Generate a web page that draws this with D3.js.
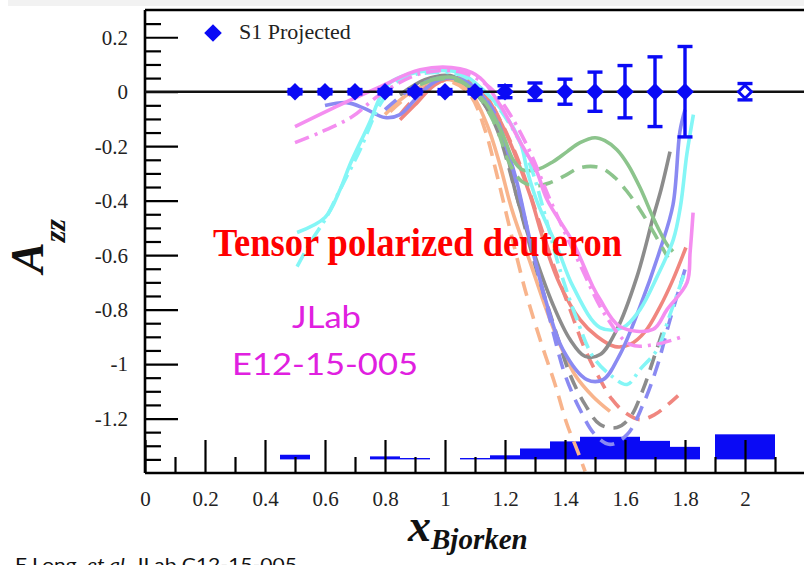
<!DOCTYPE html>
<html>
<head>
<meta charset="utf-8">
<script src="https://cdn.jsdelivr.net/npm/d3@7"></script>
<style>
  html, body { margin: 0; padding: 0; background: #fff; }
  svg { display: block; }
</style>
</head>
<body>
<svg id="chart" width="804" height="565"></svg>
<script>
// ---- S1 projected points (A_zz = 0 with statistical errors) ----
const s1X   = [0.5, 0.6, 0.7, 0.8, 0.9, 1.0, 1.1, 1.2, 1.3, 1.4, 1.5, 1.6, 1.7, 1.8];
const s1Y   = [0, 0, 0, 0, 0, 0, 0, 0, 0, 0, 0, 0, 0, 0];
const s1Err = [0.008, 0.008, 0.008, 0.008, 0.008, 0.008, 0.008, 0.022, 0.032, 0.046, 0.072, 0.096, 0.128, 0.166];

// open point at x = 2
const openX = [2.0];
const openY = [0];
const openErr = [0.03];

// ---- systematic error bands (bin low edge, high edge, height above base) ----
const sysBase = -1.35;
const sysLo = [0.45, 0.75, 0.85, 1.05, 1.15, 1.25, 1.35, 1.45, 1.55, 1.65, 1.75, 1.90];
const sysHi = [0.55, 0.85, 0.95, 1.15, 1.25, 1.35, 1.45, 1.55, 1.65, 1.75, 1.85, 2.10];
const sysH  = [0.017, 0.011, 0.005, 0.005, 0.015, 0.040, 0.066, 0.083, 0.083, 0.068, 0.046, 0.092];

// ---- tick values ----
const xMajorTicks = [0, 0.2, 0.4, 0.6, 0.8, 1.0, 1.2, 1.4, 1.6, 1.8, 2.0];
const xMinorTicks = [0.1, 0.3, 0.5, 0.7, 0.9, 1.1, 1.3, 1.5, 1.7, 1.9, 2.1];
const yMajorTicks = [-1.2, -1.0, -0.8, -0.6, -0.4, -0.2, 0, 0.2];
const yMinorTicks = [-1.35, -1.3, -1.25, -1.15, -1.1, -1.05, -0.95, -0.9, -0.85, -0.75, -0.7, -0.65,
                     -0.55, -0.5, -0.45, -0.35, -0.3, -0.25, -0.15, -0.1, -0.05, 0.05, 0.1, 0.15, 0.25];

// ---- model curves [x, A_zz] ----
const orangeSolid = [[0.80,-0.084],[0.86,-0.022],[0.933,0.026],[1.017,0.044],[1.083,0.0],[1.14,-0.121],
  [1.183,-0.268],[1.223,-0.433],[1.283,-0.624],[1.34,-0.807],[1.383,-0.928],[1.433,-1.039],[1.493,-1.119],[1.55,-1.174]];
const orangeDash = [[0.817,-0.073],[0.883,-0.011],[0.95,0.029],[1.017,0.037],[1.083,-0.011],[1.133,-0.139],
  [1.173,-0.305],[1.217,-0.506],[1.267,-0.727],[1.317,-0.91],[1.367,-1.075],[1.407,-1.222],[1.44,-1.314],[1.467,-1.394]];
const salmonSolid = [[0.85,-0.103],[0.90,-0.048],[0.967,0.026],[1.033,0.051],[1.11,0.022],[1.173,-0.084],
  [1.227,-0.213],[1.283,-0.378],[1.333,-0.561],[1.383,-0.708],[1.45,-0.837],[1.507,-0.899],[1.567,-0.936],
  [1.617,-0.928],[1.667,-0.881],[1.717,-0.789],[1.76,-0.69],[1.803,-0.572]];
const salmonDash = [[0.85,-0.084],[0.95,0.026],[1.033,0.051],[1.117,0.015],[1.183,-0.103],[1.25,-0.268],
  [1.317,-0.488],[1.367,-0.653],[1.417,-0.80],[1.467,-0.947],[1.517,-1.057],[1.557,-1.13],[1.60,-1.178],
  [1.65,-1.204],[1.70,-1.185],[1.743,-1.149],[1.777,-1.116]];
const graySolid = [[0.85,-0.011],[0.933,0.044],[1.017,0.059],[1.083,0.015],[1.14,-0.059],[1.193,-0.169],
  [1.233,-0.36],[1.293,-0.58],[1.36,-0.782],[1.417,-0.91],[1.467,-0.972],[1.517,-0.965],[1.573,-0.873],
  [1.64,-0.679],[1.694,-0.46],[1.72,-0.36],[1.75,-0.22]];
const grayDash = [[0.85,-0.011],[0.95,0.044],[1.033,0.051],[1.10,0.0],[1.167,-0.121],[1.233,-0.36],
  [1.30,-0.635],[1.367,-0.873],[1.417,-1.039],[1.467,-1.149],[1.517,-1.222],[1.573,-1.233],[1.617,-1.196],
  [1.66,-1.094],[1.70,-0.965],[1.733,-0.855]];
const blueSolid = [[0.60,-0.051],[0.673,-0.04],[0.733,-0.062],[0.80,-0.095],[0.85,-0.084],[0.90,-0.029],
  [0.967,0.037],[1.033,0.051],[1.10,0.015],[1.167,-0.095],[1.233,-0.305],[1.283,-0.543],[1.34,-0.782],
  [1.393,-0.947],[1.473,-1.057],[1.527,-1.057],[1.583,-0.965],[1.65,-0.789],[1.717,-0.58],[1.76,-0.415],
  [1.783,-0.146],[1.80,-0.066]];
const blueDash = [[0.80,-0.066],[0.883,0.007],[0.983,0.051],[1.067,0.037],[1.15,-0.048],[1.217,-0.25],
  [1.283,-0.543],[1.35,-0.837],[1.40,-1.039],[1.45,-1.167],[1.50,-1.259],[1.55,-1.295],[1.607,-1.259],
  [1.66,-1.149],[1.707,-1.009],[1.75,-0.837],[1.80,-0.653]];
const greenSolid = [[0.917,0.026],[0.983,0.051],[1.033,0.051],[1.083,0.015],[1.14,-0.048],[1.193,-0.158],
  [1.227,-0.25],[1.257,-0.286],[1.307,-0.286],[1.36,-0.257],[1.407,-0.22],[1.45,-0.187],[1.50,-0.169],
  [1.533,-0.18],[1.573,-0.213],[1.61,-0.268],[1.65,-0.352],[1.70,-0.477],[1.74,-0.561],[1.76,-0.587]];
const greenDash = [[0.95,0.044],[1.033,0.044],[1.10,0.0],[1.167,-0.121],[1.217,-0.268],[1.257,-0.33],
  [1.30,-0.345],[1.35,-0.334],[1.40,-0.308],[1.45,-0.279],[1.517,-0.279],[1.567,-0.316],[1.61,-0.371],
  [1.65,-0.433],[1.70,-0.525],[1.743,-0.609]];
const cyanSolid = [[0.507,-0.517],[0.60,-0.462],[0.65,-0.36],[0.683,-0.268],[0.75,-0.11],[0.783,-0.022],
  [0.817,0.033],[0.873,0.062],[0.95,0.077],[1.05,0.07],[1.107,0.026],[1.183,-0.059],[1.25,-0.183],
  [1.275,-0.294],[1.307,-0.404],[1.373,-0.569],[1.427,-0.716],[1.517,-0.866],[1.593,-0.866],[1.65,-0.80],
  [1.707,-0.679],[1.761,-0.543],[1.785,-0.42],[1.806,-0.231],[1.828,-0.084]];
const cyanDashDot = [[0.507,-0.642],[0.557,-0.543],[0.60,-0.47],[0.65,-0.36],[0.717,-0.213],[0.783,-0.048],
  [0.85,0.044],[0.95,0.07],[1.05,0.062],[1.133,0.0],[1.217,-0.121],[1.283,-0.268],[1.333,-0.451],
  [1.383,-0.653],[1.44,-0.837],[1.493,-0.972],[1.55,-1.039],[1.607,-1.075],[1.65,-1.02],[1.707,-0.947],
  [1.75,-0.818],[1.80,-0.66]];
const pinkSolid = [[0.50,-0.128],[0.65,-0.048],[0.783,0.018],[0.917,0.081],[1.05,0.084],[1.117,0.051],
  [1.183,-0.048],[1.25,-0.183],[1.306,-0.294],[1.34,-0.396],[1.427,-0.554],[1.493,-0.716],[1.517,-0.763],
  [1.583,-0.862],[1.693,-0.873],[1.74,-0.80],[1.807,-0.70],[1.817,-0.59],[1.827,-0.444]];
const pinkDashDot = [[0.50,-0.187],[0.583,-0.15],[0.69,-0.092],[0.783,-0.011],[0.917,0.066],[1.05,0.073],
  [1.15,0.015],[1.217,-0.084],[1.283,-0.22],[1.35,-0.396],[1.45,-0.635],[1.533,-0.818],[1.617,-0.928],
  [1.70,-0.928],[1.79,-0.90]];

// ---- styles for the curves ----
const palette = {
  orange: "#f8b48c", salmon: "#f0867f", gray: "#8c8c8c", blue: "#8a8af2",
  green: "#8cc48c", cyan: "#84f6f6", pink: "#f48ef0"
};
const dashed = "15,9";
const dashDot = "15,6,3,6";
const curves = [
  { data: orangeDash,  color: palette.orange, dash: dashed },
  { data: orangeSolid, color: palette.orange, dash: null },
  { data: salmonDash,  color: palette.salmon, dash: dashed },
  { data: salmonSolid, color: palette.salmon, dash: null },
  { data: grayDash,    color: palette.gray,   dash: dashed },
  { data: graySolid,   color: palette.gray,   dash: null },
  { data: blueDash,    color: palette.blue,   dash: dashed },
  { data: blueSolid,   color: palette.blue,   dash: null },
  { data: greenDash,   color: palette.green,  dash: dashed },
  { data: greenSolid,  color: palette.green,  dash: null },
  { data: cyanDashDot, color: palette.cyan,   dash: dashDot },
  { data: cyanSolid,   color: palette.cyan,   dash: null },
  { data: pinkDashDot, color: palette.pink,   dash: dashDot },
  { data: pinkSolid,   color: palette.pink,   dash: null }
];

// ---- layout ----
const svg = d3.select("#chart");
const x = d3.scaleLinear().domain([0, 2.2]).range([145, 805]);
const y = d3.scaleLinear().domain([-1.4, 0.3]).range([473, 10]);
const BLUE = "#0a0af5";

svg.append("rect").attr("x", 8).attr("y", 0).attr("width", 796).attr("height", 6).attr("fill", "#f2f2f2");

// systematic bands
svg.append("g").selectAll("rect").data(sysLo).join("rect")
  .attr("x", (d) => x(d))
  .attr("width", (d, i) => x(sysHi[i]) - x(d))
  .attr("y", (d, i) => y(sysBase + sysH[i]))
  .attr("height", (d, i) => y(sysBase) - y(sysBase + sysH[i]))
  .attr("fill", BLUE);

// model curves
const line = d3.line().x((d) => x(d[0])).y((d) => y(d[1])).curve(d3.curveCatmullRom.alpha(0.5));
svg.append("g").attr("fill", "none").selectAll("path").data(curves).join("path")
  .attr("d", (c) => line(c.data))
  .attr("stroke", (c) => c.color)
  .attr("stroke-width", 3.6)
  .attr("stroke-dasharray", (c) => c.dash)
  .attr("stroke-linecap", "butt")
  .attr("stroke-linejoin", "round");

// axes with inward ticks
const fmt = (d) => String(+d.toFixed(2));
const tickFont = "'Liberation Serif', 'Times New Roman', serif";

const yMinor = svg.append("g").attr("transform", `translate(${x(0)},0)`)
  .call(d3.axisLeft(y).tickValues(yMinorTicks).tickSize(-16).tickFormat(""));
const yMajor = svg.append("g").attr("transform", `translate(${x(0)},0)`)
  .call(d3.axisLeft(y).tickValues(yMajorTicks).tickSize(-33).tickPadding(17).tickFormat(fmt));
const xMinor = svg.append("g").attr("transform", `translate(0,${y(-1.4)})`)
  .call(d3.axisBottom(x).tickValues(xMinorTicks).tickSize(-16).tickFormat(""));
const xMajor = svg.append("g").attr("transform", `translate(0,${y(-1.4)})`)
  .call(d3.axisBottom(x).tickValues(xMajorTicks).tickSize(-33).tickPadding(18).tickFormat(fmt));

[yMinor, yMajor, xMinor, xMajor].forEach((g) => {
  g.select(".domain").remove();
  g.selectAll(".tick line").attr("stroke", "#000").attr("stroke-width", 2.2);
  g.selectAll("text").attr("font-family", tickFont).attr("font-size", 21).attr("fill", "#222");
});
yMajor.selectAll("text").attr("dy", "0.33em");
xMajor.selectAll("text").attr("dy", "0.71em");

// frame: left, top, bottom
const frame = svg.append("g").attr("stroke", "#000").attr("stroke-width", 2.6).attr("fill", "none");
frame.append("line").attr("x1", x(0)).attr("x2", x(0)).attr("y1", y(0.3)).attr("y2", y(-1.4));
frame.append("line").attr("x1", x(0)).attr("x2", 804).attr("y1", y(0.3)).attr("y2", y(0.3));
frame.append("line").attr("x1", x(0)).attr("x2", 804).attr("y1", y(-1.4)).attr("y2", y(-1.4));
// zero line
svg.append("line").attr("x1", x(0)).attr("x2", 804).attr("y1", y(0)).attr("y2", y(0))
  .attr("stroke", "#111").attr("stroke-width", 2.4);

// error bars
function errorBars(xs, ys, es) {
  const g = svg.append("g").attr("stroke", BLUE).attr("stroke-width", 3.4);
  xs.forEach((xv, i) => {
    const cx = x(xv), top = y(ys[i] + es[i]), bot = y(ys[i] - es[i]);
    g.append("line").attr("x1", cx).attr("x2", cx).attr("y1", top).attr("y2", bot);
    g.append("line").attr("x1", cx - 7.5).attr("x2", cx + 7.5).attr("y1", top).attr("y2", top);
    g.append("line").attr("x1", cx - 7.5).attr("x2", cx + 7.5).attr("y1", bot).attr("y2", bot);
  });
}
errorBars(s1X, s1Y, s1Err);
errorBars(openX, openY, openErr);

const diamond = (r) => `M0,${-r}L${r},0L0,${r}L${-r},0Z`;
svg.append("g").selectAll("path").data(s1X).join("path")
  .attr("d", diamond(8.8))
  .attr("transform", (d, i) => `translate(${x(d)},${y(s1Y[i])})`)
  .attr("fill", BLUE);
svg.append("g").selectAll("path").data(openX).join("path")
  .attr("d", diamond(6.5))
  .attr("transform", (d, i) => `translate(${x(d)},${y(openY[i])})`)
  .attr("fill", "#fff").attr("stroke", BLUE).attr("stroke-width", 3);

// legend
svg.append("path").attr("d", diamond(8.8)).attr("transform", "translate(213,33)").attr("fill", BLUE);
svg.append("text").attr("x", 239).attr("y", 39).attr("font-family", tickFont).attr("font-size", 22)
  .attr("fill", "#222").text("S1 Projected");

// annotations
svg.append("text").attr("x", 213).attr("y", 256)
  .attr("font-family", "'Liberation Serif', serif").attr("font-weight", "bold").attr("font-size", 39)
  .attr("textLength", 409).attr("lengthAdjust", "spacingAndGlyphs")
  .attr("fill", "#ff0000").text("Tensor polarized deuteron");
svg.append("text").attr("x", 292).attr("y", 328)
  .attr("font-family", "Lato, 'Open Sans', sans-serif").attr("font-size", 30)
  .attr("textLength", 69).attr("lengthAdjust", "spacingAndGlyphs")
  .attr("fill", "#e020e0").text("JLab");
svg.append("text").attr("x", 232).attr("y", 375)
  .attr("font-family", "Lato, 'Open Sans', sans-serif").attr("font-size", 31)
  .attr("textLength", 186).attr("lengthAdjust", "spacingAndGlyphs")
  .attr("fill", "#e020e0").text("E12-15-005");

// axis titles
const titleFont = "'Liberation Serif', 'Times New Roman', serif";
const yTitle = svg.append("text").attr("transform", "translate(43,273) rotate(-90)")
  .attr("font-family", titleFont).attr("font-weight", "bold").attr("font-style", "italic").attr("fill", "#111");
yTitle.append("tspan").attr("font-size", 46).text("A");
yTitle.append("tspan").attr("font-size", 30).attr("dy", 22).text("zz");

const xTitle = svg.append("text").attr("x", 408).attr("y", 541)
  .attr("font-family", titleFont).attr("font-weight", "bold").attr("font-style", "italic").attr("fill", "#111");
xTitle.append("tspan").attr("font-size", 46).text("x");
xTitle.append("tspan").attr("font-size", 29).attr("dy", 8).text("Bjorken");

// source note (partly below the visible area)
const note = svg.append("text").attr("x", 15).attr("y", 571)
  .attr("font-family", "Lato, 'Open Sans', sans-serif").attr("font-size", 18).attr("fill", "#111")
  .attr("textLength", 282).attr("lengthAdjust", "spacingAndGlyphs");
note.append("tspan").text("E.Long, ");
note.append("tspan").attr("font-style", "italic").text("et al.");
note.append("tspan").text(" JLab C12-15-005");
</script>
</body>
</html>
